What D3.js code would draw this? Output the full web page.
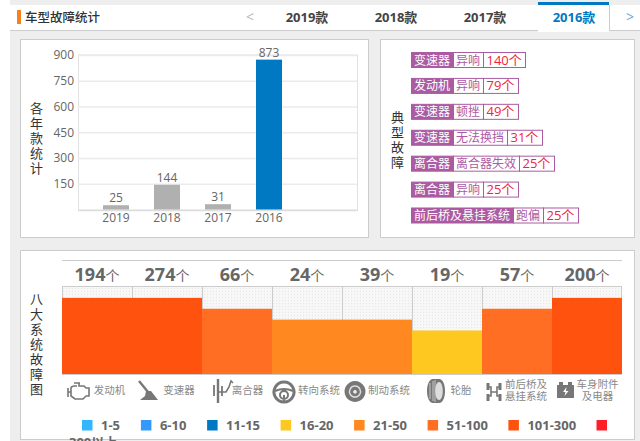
<!DOCTYPE html>
<html>
<head>
<meta charset="utf-8">
<script src="https://cdn.jsdelivr.net/npm/d3@7"></script>
<style>
  html, body { margin: 0; padding: 0; background: #fff; overflow: hidden; }
  svg { display: block; }
  text { font-family: "Open Sans", "Noto Sans CJK SC", sans-serif; }
</style>
</head>
<body>
<div id="chart"></div>
<script>
// tabs
const tabLabels = ["2019款", "2018款", "2017款", "2016款"];

// yearly totals
const years = ["2019", "2018", "2017", "2016"];
const yearCounts = [25, 144, 31, 873];
const yearTicks = [150, 300, 450, 600, 750, 900];

// typical faults
const faultParts = ["变速器", "发动机", "变速器", "变速器", "离合器", "离合器", "前后桥及悬挂系统"];
const faultNames = ["异响", "异响", "顿挫", "无法换挡", "离合器失效", "异响", "跑偏"];
const faultCounts = [140, 79, 49, 31, 25, 25, 25];

// eight systems
const systemCounts = [194, 274, 66, 24, 39, 19, 57, 200];
const systemLines = [["发动机"], ["变速器"], ["离合器"], ["转向系统"], ["制动系统"], ["轮胎"], ["前后桥及", "悬挂系统"], ["车身附件", "及电器"]];

// legend tiers
const tierLabels = ["1-5", "6-10", "11-15", "16-20", "21-50", "51-100", "101-300", "300以上"];
const tierColors = ["#33b5ff", "#3399ff", "#0079c2", "#ffc820", "#ff8820", "#ff6e22", "#ff520e", "#fe2026"];
const tierLimits = [6, 11, 16, 21, 51, 101, 301];

const width = 640, height = 441;
const blue = "#0079c2", purple = "#ab5ba2", grey = "#666";

const svg = d3.select("#chart").append("svg")
    .attr("width", width)
    .attr("height", height);

// Page and panels
svg.append("rect").attr("x", 10).attr("width", width - 10).attr("height", height).attr("fill", "#eee");

function panel(x, y, w, h) {
    svg.append("rect")
        .attr("x", x + 0.5).attr("y", y + 0.5)
        .attr("width", w - 1).attr("height", h - 1)
        .attr("fill", "#fff")
        .attr("stroke", "#ccc");
}
panel(20, 39, 349, 199);
panel(380, 39, 255, 199);
panel(20, 250, 615, 190);

// One text element written top to bottom
function verticalText(label, x, y) {
    svg.append("text")
        .attr("x", x)
        .attr("y", y)
        .attr("font-size", 13)
        .attr("fill", "#333")
        .style("writing-mode", "vertical-rl")
        .style("text-orientation", "upright")
        .style("letter-spacing", "2px")
        .text(label);
}

// Header bar
svg.append("rect").attr("x", 10).attr("y", 5).attr("width", 630).attr("height", 25).attr("fill", "#fff");
svg.append("line").attr("x1", 10).attr("x2", 640).attr("y1", 30.5).attr("y2", 30.5).attr("stroke", "#ccc");
svg.append("rect").attr("x", 17).attr("y", 10).attr("width", 4).attr("height", 14).attr("fill", "#f5811f");
svg.append("text")
    .attr("x", 25).attr("y", 21.5)
    .attr("font-size", 12.5)
    .attr("font-weight", 500)
    .attr("fill", "#333")
    .text("车型故障统计");

const tabX = d3.scalePoint().domain(tabLabels).range([307, 574]);
svg.append("rect").attr("x", 538).attr("y", 5).attr("width", 71).attr("height", 27).attr("fill", "#fff");
svg.append("rect").attr("x", 538).attr("y", 2).attr("width", 71).attr("height", 3).attr("fill", blue);
svg.append("line").attr("x1", 609.5).attr("x2", 609.5).attr("y1", 5).attr("y2", 30).attr("stroke", "#ccc");
svg.selectAll(".tab")
    .data(tabLabels)
    .join("text")
    .attr("class", "tab")
    .attr("x", d => tabX(d))
    .attr("y", 22)
    .attr("text-anchor", "middle")
    .attr("font-size", 13)
    .attr("font-weight", "bold")
    .attr("fill", d => d === "2016款" ? blue : "#444")
    .text(d => d);
svg.append("text").attr("x", 250).attr("y", 22).attr("text-anchor", "middle").attr("font-size", 14).attr("fill", "#bbb").text("<");
svg.append("text").attr("x", 630).attr("y", 22).attr("text-anchor", "middle").attr("font-size", 14).attr("fill", "#6aa9d8").text(">");

// Yearly bar chart
verticalText("各年款统计", 36, 102);

const x = d3.scaleBand()
    .domain(years)
    .range([90.5, 294.5])
    .paddingInner(0.49)
    .paddingOuter(0.245);

const y = d3.scaleLinear()
    .domain([0, 900])
    .range([209.5, 55]);

svg.append("rect")
    .attr("x", 78.5).attr("y", 55)
    .attr("width", 279).attr("height", 155)
    .attr("fill", "none")
    .attr("stroke", "#e2e2e2");

const yAxis = svg.append("g")
    .attr("transform", "translate(78,0)")
    .call(d3.axisLeft(y).tickValues(yearTicks).tickSize(-279).tickPadding(4));
yAxis.select(".domain").remove();
yAxis.selectAll("line").attr("stroke", "#ebebeb").attr("stroke-width", 1.3);
yAxis.selectAll("text").attr("font-size", 12).attr("fill", grey).attr("font-family", null);

svg.append("line").attr("x1", 78).attr("x2", 358).attr("y1", 210.5).attr("y2", 210.5).attr("stroke", "#ddd").attr("stroke-width", 1.5);

const xAxis = svg.append("g")
    .attr("transform", "translate(0,210)")
    .call(d3.axisBottom(x).tickSize(0).tickPadding(3));
xAxis.select(".domain").remove();
xAxis.selectAll("text").attr("font-size", 12).attr("fill", grey).attr("font-family", null);

svg.selectAll(".bar")
    .data(years)
    .join("rect")
    .attr("class", "bar")
    .attr("x", d => x(d))
    .attr("y", (d, i) => y(yearCounts[i]))
    .attr("width", x.bandwidth())
    .attr("height", (d, i) => y(0) - y(yearCounts[i]))
    .attr("fill", d => d === "2016" ? blue : "#b0b0b0");

svg.selectAll(".bar-label")
    .data(years)
    .join("text")
    .attr("class", "bar-label")
    .attr("x", d => x(d) + x.bandwidth() / 2)
    .attr("y", (d, i) => y(yearCounts[i]) - 3)
    .attr("text-anchor", "middle")
    .attr("font-size", 12)
    .attr("fill", grey)
    .text((d, i) => yearCounts[i]);

// Typical fault tags
verticalText("典型故障", 397, 111);

const rowY = d3.scalePoint().domain(d3.range(faultParts.length)).range([52, 207.5]);

faultParts.forEach((part, i) => {
    const row = svg.append("g").attr("transform", `translate(411,${rowY(i)})`);
    const cells = [
        { label: part, fill: purple, color: "#fff", size: 12, pad: 3 },
        { label: faultNames[i], fill: "#fff", color: purple, size: 12, pad: 3 },
        { label: faultCounts[i] + "个", fill: "#fff", color: "#f0243c", size: 13, pad: 3.5 }
    ];
    let cx = 0;
    cells.forEach(c => {
        const cell = row.append("g").attr("transform", `translate(${cx},0)`);
        const rect = cell.append("rect").attr("height", 15).attr("y", 0.5);
        const label = cell.append("text")
            .attr("x", c.pad).attr("y", 12.5)
            .attr("font-size", c.size)
            .attr("fill", c.color)
            .text(c.label);
        const w = Math.round(label.node().getComputedTextLength() + c.pad * 2);
        rect.attr("x", 0.5).attr("width", w).attr("fill", c.fill).attr("stroke", purple);
        cx += w;
    });
});

// Eight system chart
verticalText("八大系统故障图", 36, 293);

const defs = svg.append("defs");
const dots = defs.append("pattern")
    .attr("id", "dots")
    .attr("width", 3).attr("height", 3)
    .attr("patternUnits", "userSpaceOnUse");
dots.append("rect").attr("width", 3).attr("height", 3).attr("fill", "#f7f7f7");
dots.append("rect").attr("width", 1).attr("height", 1).attr("fill", "#e6e6e6");

const sysX = d3.scaleBand().domain(d3.range(systemCounts.length)).range([62, 622]);
const tier = d3.scaleThreshold().domain(tierLimits).range(d3.range(tierLabels.length));
const tierY = d3.scaleLinear().domain([-1, 7]).range([374, 287]);

svg.append("line").attr("x1", 62).attr("x2", 622).attr("y1", 260.5).attr("y2", 260.5).attr("stroke", "#ccc");
svg.append("rect")
    .attr("x", 62).attr("y", 287)
    .attr("width", 560).attr("height", 87)
    .attr("fill", "url(#dots)");

svg.selectAll(".sep")
    .data(d3.range(systemCounts.length + 1))
    .join("line")
    .attr("class", "sep")
    .attr("x1", d => d < 8 ? sysX(d) + 0.5 : 621.5)
    .attr("x2", d => d < 8 ? sysX(d) + 0.5 : 621.5)
    .attr("y1", 286).attr("y2", 374)
    .attr("stroke", "#ccc");

svg.selectAll(".sys")
    .data(systemCounts)
    .join("rect")
    .attr("class", "sys")
    .attr("x", (d, i) => sysX(i))
    .attr("y", d => tierY(tier(d)))
    .attr("width", sysX.bandwidth())
    .attr("height", d => tierY(-1) - tierY(tier(d)))
    .attr("fill", d => tierColors[tier(d)]);

svg.append("line").attr("x1", 62).attr("x2", 622).attr("y1", 286.5).attr("y2", 286.5).attr("stroke", "#ccc");
svg.append("line").attr("x1", 62).attr("x2", 622).attr("y1", 374.5).attr("y2", 374.5).attr("stroke", "#ccc");

const sysLabels = svg.selectAll(".sys-count")
    .data(systemCounts)
    .join("text")
    .attr("class", "sys-count")
    .attr("x", (d, i) => sysX(i) + sysX.bandwidth() / 2)
    .attr("y", 281)
    .attr("text-anchor", "middle")
    .attr("fill", grey);
sysLabels.append("tspan").attr("font-size", 18).attr("font-weight", "bold").text(d => d);
sysLabels.append("tspan").attr("font-size", 14).text("个");

// System icons: each is a list of [path, fill, stroke width]
const ink = "#777";
const iconParts = [
    [["M1 7v9M1 11h3M4 6v9l4 3h8l3-3h3V7h-3l-2-2h-5V2M7 2h6M10 5H7L4 6", "none", 1.6]],
    [["M1 0l9 11", "none", 2.4], ["M8 10h5l7 9H2l5-4z", ink, 0]],
    [["M6 0v24", "none", 2.4], ["M2 6v11M10 7v10", "none", 1.8], ["M6 13h8l3-5 2-6 2 2", "none", 1.6]],
    [["M11 1a10 10 0 1 0 .01 0z", "none", 3], ["M2 10q9-4 18 0M11 14v7M7 14a4 4 0 1 0 8 0a4 4 0 1 0-8 0", "none", 2]],
    [["M10 0a10.5 10.5 0 1 0 .01 0z", ink, 0], ["M10 5a5.5 5.5 0 1 0 .01 0z", "none", 1.5, "#ddd"], ["M10 9a1.8 1.8 0 1 0 .01 0z", "#eee", 0]],
    [["M6 0C-2 0-2 24 6 24h6c8 0 8-24 0-24z", ink, 0], ["M12 3c-5 0-5 18 0 18s5-18 0-18z", "#ddd", 0], ["M3 4v16M6 2v20M8 1v22", "none", 0.8, "#ddd"]],
    [["M2 1v7M14 1v7M2 12v7M14 12v7", "none", 3], ["M2 5h3v9H2M14 5h-3v9h3M5 10h6", "none", 1.6]],
    [["M0 3h17v13H0z", ink, 0], ["M2 0h4v3H2zM11 0h4v3h-4z", ink, 0], ["M9.5 5L6 10h2.5l-1 4 4-5H9z", "#fff", 0]]
];
const iconOrigin = [[67, 381], [138, 381], [212, 379], [273, 381], [345, 381], [427, 379], [486, 382], [557, 382]];

iconParts.forEach((parts, i) => {
    svg.append("g")
        .attr("transform", `translate(${iconOrigin[i]})`)
        .selectAll("path")
        .data(parts)
        .join("path")
        .attr("d", d => d[0])
        .attr("fill", d => d[1])
        .attr("stroke", d => d[3] || ink)
        .attr("stroke-width", d => d[2]);
});

// System names, long ones on two lines
const nameX = [109.5, 179, 247.5, 319, 389, 461, 526, 597.5];

systemLines.forEach((lines, i) => {
    svg.append("text")
        .attr("text-anchor", "middle")
        .attr("font-size", 10.5)
        .attr("fill", "#888")
        .style("font-family", lines.length > 1 ? '"Liberation Sans", "Noto Sans CJK SC", sans-serif' : null)
        .selectAll("tspan")
        .data(lines)
        .join("tspan")
        .attr("x", nameX[i])
        .attr("y", (d, j) => lines.length > 1 ? 388 + j * 12 : 394)
        .text(d => d);
});

// Legend, flowed left to right with the last label wrapped
let legendX = 82;
tierLabels.forEach((label, i) => {
    svg.append("rect")
        .attr("x", legendX).attr("y", 420)
        .attr("width", 10.5).attr("height", 10.5)
        .attr("fill", tierColors[i]);
    if (i === tierLabels.length - 1) return;
    svg.append("text")
        .attr("x", legendX + 19).attr("y", 430)
        .attr("font-size", 13)
        .attr("font-weight", "bold")
        .attr("fill", grey)
        .text(label);
    legendX += 37 + 7.3 * label.length;
});
svg.append("text")
    .attr("x", 69).attr("y", 447)
    .attr("font-size", 13)
    .attr("font-weight", "bold")
    .attr("fill", grey)
    .text(tierLabels[7]);
</script>
</body>
</html>
